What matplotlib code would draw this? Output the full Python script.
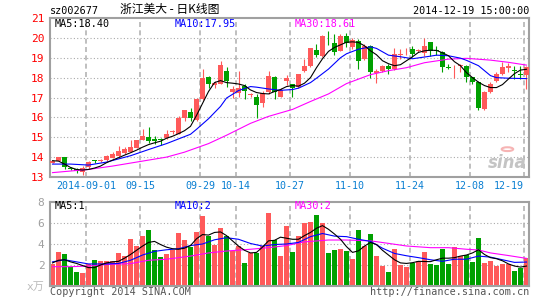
import matplotlib
matplotlib.use("Agg")
import matplotlib.pyplot as plt
from matplotlib.patches import Circle

plt.rcParams["font.family"] = ["DejaVu Sans Mono", "Noto Sans CJK SC"]

# daily K-line, 2014-08-22 .. 2014-12-19 (80 trading days)
opens = [13.72, 13.80, 14.02, 13.43, 13.42, 13.25, 13.48, 13.82, 13.80, 13.85,
         13.97, 14.07, 14.20, 14.28, 14.48, 14.87, 15.02, 14.90, 14.88, 14.95,
         15.25, 15.18, 15.98, 16.25, 15.85, 16.93, 18.02, 17.65, 17.70, 18.35,
         17.30, 17.23, 17.57, 17.13, 17.05, 16.73, 17.27, 18.02, 17.05, 17.85,
         17.68, 17.52, 18.35, 18.57, 19.40, 19.07, 19.90, 19.73, 19.35, 20.10,
         19.52, 19.85, 18.93, 19.57, 18.23, 18.35, 18.60, 18.43, 19.15, 19.32,
         19.43, 19.33, 19.23, 19.77, 19.37, 19.30, 18.53, 18.57, 18.58, 18.60,
         18.02, 17.80, 16.40, 17.27, 17.85, 18.18, 18.47, 18.37, 18.15, 18.13]
highs = [13.88, 14.02, 14.02, 13.48, 13.47, 13.55, 13.78, 13.88, 13.92, 14.12,
         14.27, 14.55, 14.50, 14.88, 14.88, 15.40, 15.52, 15.07, 14.97, 15.35,
         15.35, 16.08, 16.38, 16.45, 16.95, 18.42, 18.10, 17.85, 18.85, 18.55,
         17.60, 18.35, 17.68, 17.25, 17.17, 17.35, 18.35, 18.10, 17.48, 18.15,
         17.70, 18.20, 18.93, 19.50, 19.68, 20.13, 20.35, 20.18, 20.20, 20.27,
         20.00, 19.93, 19.68, 19.65, 18.43, 18.62, 18.68, 19.48, 19.43, 19.48,
         19.57, 19.45, 19.97, 19.78, 19.57, 19.35, 18.68, 18.63, 18.70, 18.62,
         18.05, 17.82, 17.32, 17.80, 18.30, 18.77, 18.73, 18.57, 18.57, 18.60]
lows = [13.68, 13.78, 13.38, 13.33, 13.18, 13.12, 13.42, 13.70, 13.76, 13.82,
        13.95, 14.02, 14.15, 14.25, 14.45, 14.85, 14.72, 14.65, 14.60, 14.90,
        15.18, 15.15, 15.82, 15.80, 15.80, 16.88, 17.48, 17.48, 17.68, 17.55,
        17.00, 17.02, 16.93, 17.05, 15.97, 16.50, 17.20, 16.93, 17.02, 17.65,
        17.02, 17.50, 18.30, 18.55, 19.02, 19.05, 19.63, 19.15, 19.33, 19.52,
        19.45, 18.45, 18.90, 17.97, 17.72, 18.30, 18.18, 18.40, 18.95, 19.13,
        19.02, 19.28, 19.10, 19.10, 19.13, 18.30, 18.45, 17.97, 18.27, 17.77,
        17.68, 16.35, 16.35, 17.23, 17.80, 18.15, 18.27, 17.93, 17.93, 17.43]
closes = [13.82, 14.00, 13.48, 13.41, 13.32, 13.45, 13.77, 13.80, 13.85, 14.07,
          14.18, 14.32, 14.42, 14.50, 14.85, 15.07, 14.82, 14.82, 14.85, 15.18,
          15.28, 15.98, 16.35, 15.98, 16.90, 17.98, 17.68, 17.72, 18.62, 17.85,
          17.43, 17.47, 17.35, 17.17, 16.63, 17.23, 18.10, 17.27, 17.38, 17.97,
          17.47, 18.18, 18.60, 19.48, 19.13, 20.07, 19.87, 19.27, 20.10, 19.73,
          19.90, 18.85, 19.60, 18.27, 18.35, 18.60, 18.43, 19.18, 19.20, 19.36,
          19.18, 19.36, 19.60, 19.35, 19.33, 18.52, 18.50, 18.60, 18.60, 18.02,
          17.80, 16.47, 17.30, 17.68, 18.18, 18.52, 18.60, 18.33, 18.12, 18.52]
# volume, x 10k lots
volumes = [2.10, 3.27, 3.08, 1.78, 1.37, 1.27, 2.10, 2.50, 2.41, 2.41,
           2.40, 3.17, 2.90, 4.44, 3.84, 4.80, 5.30, 3.43, 2.73, 3.08,
           3.40, 5.08, 4.35, 3.68, 5.17, 6.70, 4.73, 3.94, 5.56, 4.80,
           3.37, 3.84, 2.22, 3.17, 3.17, 3.84, 7.00, 4.35, 2.90, 5.68,
           3.25, 4.78, 6.00, 6.10, 6.78, 6.00, 3.15, 3.45, 3.55, 3.35,
           2.60, 5.35, 3.82, 4.95, 2.88, 1.92, 1.35, 3.55, 2.00, 1.82,
           2.15, 2.40, 3.25, 2.10, 2.00, 3.55, 2.10, 3.72, 2.88, 3.00,
           2.30, 4.58, 2.20, 2.40, 1.95, 2.05, 2.13, 1.45, 1.76, 2.70]

# moving averages (day index, value)
ma5_day = list(range(80))
ma5_val = [13.82, 13.80, 13.65, 13.48, 13.38, 13.35, 13.38, 13.45, 13.55, 13.72,
           13.85, 13.97, 14.10, 14.22, 14.35, 14.50, 14.63, 14.72, 14.80, 14.95,
           15.05, 15.18, 15.33, 15.55, 16.10, 16.70, 17.30, 17.75, 17.85, 17.75,
           17.72, 17.68, 17.60, 17.38, 17.25, 17.20, 17.18, 17.30, 17.40, 17.55,
           17.60, 17.57, 17.72, 18.00, 18.50, 18.95, 19.32, 19.52, 19.65, 19.78,
           19.80, 19.77, 19.60, 19.35, 19.15, 18.85, 18.70, 18.60, 18.65, 18.85,
           19.05, 19.27, 19.35, 19.38, 19.37, 19.25, 19.10, 18.80, 18.60, 18.25,
           18.00, 17.77, 17.60, 17.50, 17.50, 17.65, 17.93, 18.20, 18.38, 18.42]
ma10_day = [0, 3, 6, 9, 13, 16, 19, 23, 24, 26, 28, 29, 31, 33, 34, 36, 38, 40,
            41, 43, 44, 46, 48, 49, 51, 53, 54, 56, 58, 60, 63, 64, 66, 68, 69,
            71, 73, 74, 76, 79]
ma10_val = [13.65, 13.65, 13.60, 13.75, 14.07, 14.38, 14.68, 15.15, 15.40, 15.93,
            16.55, 16.97, 17.35, 17.55, 17.52, 17.43, 17.36, 17.40, 17.47, 17.75,
            17.97, 18.43, 19.00, 19.20, 19.43, 19.55, 19.47, 19.13, 19.05, 18.95,
            19.08, 19.13, 19.10, 18.98, 18.87, 18.60, 18.10, 18.00, 17.97, 17.95]
ma30_day = [0, 6, 10, 15, 19, 22, 26, 29, 33, 36, 40, 43, 46, 49, 53, 56, 59,
            62, 66, 69, 73, 76, 79]
ma30_val = [13.22, 13.38, 13.55, 13.80, 14.00, 14.25, 14.68, 15.10, 15.70, 16.05,
            16.40, 16.80, 17.18, 17.70, 18.15, 18.35, 18.50, 18.75, 18.93, 18.97,
            18.88, 18.77, 18.63]

vma5_day = list(range(80))
vma5_val = [2.20, 2.45, 2.50, 2.30, 2.15, 1.95, 1.75, 1.75, 2.00, 2.20,
            2.30, 2.35, 2.65, 3.00, 3.40, 3.80, 4.15, 4.25, 3.95, 3.70,
            3.55, 3.50, 3.60, 3.85, 4.50, 4.90, 4.85, 5.10, 5.15, 4.80,
            4.30, 3.80, 3.40, 3.15, 3.20, 3.70, 4.30, 4.35, 4.65, 4.55,
            4.45, 4.45, 4.80, 5.10, 5.50, 5.75, 5.40, 4.95, 4.45, 3.75,
            3.20, 3.35, 3.80, 4.15, 3.95, 3.40, 2.95, 2.50, 2.20, 2.15,
            2.22, 2.35, 2.33, 2.32, 2.50, 2.65, 2.65, 2.70, 2.85, 2.95,
            3.15, 3.45, 3.00, 2.70, 2.60, 2.40, 2.10, 1.90, 1.80, 1.90]
vma10_day = [0, 2, 4, 6, 9, 11, 13, 15, 17, 19, 21, 23, 25, 27, 29, 31, 33, 35,
             37, 39, 41, 43, 45, 47, 49, 51, 53, 55, 57, 59, 61, 63, 65, 67, 69,
             71, 73, 75, 77, 79]
vma10_val = [2.30, 2.50, 2.30, 2.10, 2.10, 2.15, 2.45, 2.95, 3.30, 3.45,
             3.55, 3.85, 4.00, 4.40, 4.60, 4.45, 4.05, 3.80, 3.95, 4.00,
             4.15, 4.70, 5.00, 4.75, 4.70, 4.45, 4.25, 3.60, 3.10, 2.88,
             2.70, 2.50, 2.35, 2.55, 2.55, 2.85, 2.75, 2.50, 2.25, 2.28]
vma30_day = [0, 3, 6, 9, 13, 16, 19, 23, 26, 29, 33, 36, 39, 42, 46, 49, 53,
             56, 59, 63, 66, 69, 71, 73, 76, 79]
vma30_val = [1.84, 1.84, 1.90, 2.05, 2.13, 2.45, 2.55, 2.85, 3.15, 3.33,
             3.50, 3.65, 3.85, 4.20, 4.38, 4.38, 4.30, 4.06, 3.81, 3.65,
             3.65, 3.50, 3.43, 3.15, 2.90, 2.63]

date_pos = [6, 15, 25, 31, 40, 50, 60, 70, 79]
date_labels = ["2014-09-01", "09-15", "09-29", "10-14", "10-27",
               "11-10", "11-24", "12-08", "12-19"]
price_ticks = [13, 14, 15, 16, 17, 18, 19, 20, 21]
vol_ticks = [0, 2, 4, 6, 8]
vol_tick_labels = ["x万", "2", "4", "6", "8"]

RED = "#ff5a5a"
GREEN = "#00a000"
BLUE = "#0000ff"
MAGENTA = "#ff00ff"
FRAME = "#a0a0a0"
W, H = 545, 300


def fx(px):
    return px / W


def fy(py):
    return 1 - py / H


def style_axes(ax, ticks):
    ax.set_xlim(-0.42, 79.42)
    for s in ax.spines.values():
        s.set_color(FRAME)
        s.set_linewidth(1.5)
    ax.set_yticks(ticks)
    for t in ticks[1:-1]:
        ax.axhline(t, color="#aaaaaa", lw=0.8, ls=(0, (1, 2)), zorder=0)
    for d in date_pos:
        ax.axvline(d - 0.38, color="#b4b4b4", lw=1.2, ls=(0, (3, 2)), zorder=0)
    ax.tick_params(axis="both", length=0)


fig = plt.figure(figsize=(W / 100, H / 100), dpi=100)
ax = fig.add_axes([fx(50), fy(177), fx(479), 159 / H])
axv = fig.add_axes([fx(50), fy(286), fx(479), 84 / H])

# ---- price panel ----
style_axes(ax, price_ticks)
ax.set_ylim(13, 21)
colors = [RED if c >= o else GREEN for o, c in zip(opens, closes)]
days = list(range(len(closes)))
ax.vlines(days, lows, highs, colors=colors, lw=0.8, zorder=2)
bottoms = [min(o, c) for o, c in zip(opens, closes)]
heights = [max(abs(c - o), 0.04) for o, c in zip(opens, closes)]
ax.bar(days, heights, bottom=bottoms, width=0.83, color=colors, lw=0, zorder=3)
ax.plot(ma30_day, ma30_val, color=MAGENTA, lw=0.8, zorder=4)
ax.plot(ma10_day, ma10_val, color=BLUE, lw=0.8, zorder=4)
ax.plot(ma5_day, ma5_val, color="black", lw=0.8, zorder=5)
ax.set_yticklabels([str(t) for t in price_ticks], color="#ff0000", fontsize=8)
ax.tick_params(axis="y", pad=4)
ax.set_xticks([d - 0.38 for d in date_pos])
ax.set_xticklabels(date_labels, color="#0a7fd2", fontsize=7.2)
ax.tick_params(axis="x", pad=3)
ax.get_xticklabels()[-1].set_horizontalalignment("right")

# sina watermark
ax.text(0.995, 0.03, "sina", transform=ax.transAxes, ha="right", va="bottom",
        fontsize=12, fontstyle="italic", fontweight="bold", color="#c4c4c4",
        family="DejaVu Sans", zorder=1)
ax.add_patch(Circle((0.955, 0.175), 0.012, transform=ax.transAxes,
                    fill=False, ec="#f6b4b4", lw=1.5, zorder=1))

# ---- volume panel ----
style_axes(axv, vol_ticks)
axv.set_ylim(0, 8)
axv.bar(days, volumes, width=0.83, color=colors, lw=0, zorder=2)
axv.plot(vma30_day, vma30_val, color=MAGENTA, lw=0.8, zorder=4)
axv.plot(vma10_day, vma10_val, color=BLUE, lw=0.8, zorder=4)
axv.plot(vma5_day, vma5_val, color="black", lw=0.8, zorder=5)
axv.set_yticklabels(vol_tick_labels, color="#a0a0a0", fontsize=8)
axv.get_yticklabels()[0].set_color("#bbbbbb")
axv.tick_params(axis="y", pad=4)
axv.set_xticks([])

# ---- texts ----
fig.text(fx(50), fy(11), "sz002677", fontsize=7.3, va="center")
fig.text(fx(120), fy(10), "浙江美大 - 日K线图", fontsize=8.5, va="center",
         family=["Noto Sans CJK SC", "DejaVu Sans"])
fig.text(fx(529), fy(11), "2014-12-19 15:00:00", fontsize=7.3, va="center", ha="right")
fig.text(fx(55), fy(24), "MA5:18.40", fontsize=7.3, va="center", color="black")
fig.text(fx(175), fy(24), "MA10:17.95", fontsize=7.3, va="center", color=BLUE)
fig.text(fx(295), fy(24), "MA30:18.61", fontsize=7.3, va="center", color=MAGENTA)
fig.text(fx(55), fy(206), "MA5:1", fontsize=7.3, va="center", color="black")
fig.text(fx(175), fy(206), "MA10:2", fontsize=7.3, va="center", color=BLUE)
fig.text(fx(295), fy(206), "MA30:2", fontsize=7.3, va="center", color=MAGENTA)
fig.text(fx(50), fy(292), "Copyright 2014 SINA.COM", fontsize=7.3, va="center", color="#555555")
fig.text(fx(529), fy(292), "http://finance.sina.com.cn", fontsize=7.3, va="center",
         ha="right", color="#555555")

fig.savefig("out.png", dpi=100)
